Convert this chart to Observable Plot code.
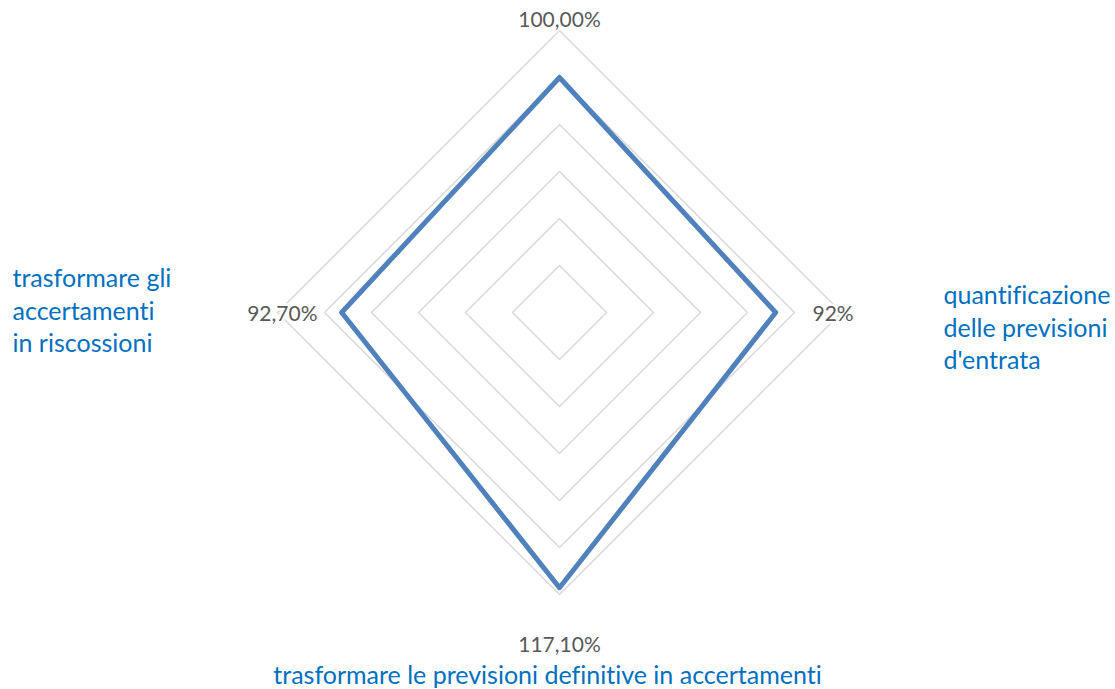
<!DOCTYPE html>
<html>
<head>
<meta charset="utf-8">
<script src="https://cdn.jsdelivr.net/npm/d3@7"></script>
<script src="https://cdn.jsdelivr.net/npm/@observablehq/plot@0.6"></script>
<style>
  html, body { margin: 0; padding: 0; background: #fff; }
  #chart { width: 1115px; height: 689px; }
  svg text { font-variant-ligatures: none; }
</style>
</head>
<body>
<div id="chart"></div>
<script>
// ---- data ----
const categories = [
  "",
  "quantificazione\ndelle previsioni\nd'entrata",
  "trasformare le previsioni definitive in accertamenti",
  "trasformare gli\naccertamenti\nin riscossioni"
];
const values = [100, 92, 117.1, 92.7];
const valueLabels = ["100,00%", "92%", "117,10%", "92,70%"];
const ringTicks = [20, 40, 60, 80, 100, 120];

// ---- geometry ----
const W = 1115, H = 689;
const cx = 559, cy = 312, R = 282, rMax = 120;
const k = R / rMax;
const angles = categories.map((_, i) => (i * 2 * Math.PI) / categories.length);
const px = (v, a) => v * Math.sin(a);
const py = (v, a) => v * Math.cos(a);

const gridData = ringTicks.flatMap(t =>
  [...angles, angles[0]].map(a => ({ t, x: px(t, a), y: py(t, a) }))
);
const seriesData = [...values, values[0]].map((v, i) => {
  const a = angles[i % angles.length];
  return { x: px(v, a), y: py(v, a) };
});
const axisEnds = angles.map((a, i) => ({
  x: px(rMax, a), y: py(rMax, a), cat: categories[i], lab: valueLabels[i], i
}));

// label offsets (pixels) per axis: top, right, bottom, left
const valueLabelStyle = [
  { anchor: "middle", dx: 0, dy: -10 },
  { anchor: "start", dx: -29, dy: 2 },
  { anchor: "middle", dx: 0, dy: 51 },
  { anchor: "end", dx: 40, dy: 2 }
];
const catLabelStyle = [
  { anchor: "middle", dx: 0, dy: 0 },
  { anchor: "start", dx: 102, dy: 14 },
  { anchor: "middle", dx: -12, dy: 79 },
  { anchor: "start", dx: -265, dy: -3 }
];

const FONT = "Lato, 'Noto Sans', sans-serif";

const marks = [
  Plot.line(gridData, { x: "x", y: "y", z: "t", stroke: "#d9d9d9", strokeWidth: 1.5 }),
  Plot.line(seriesData, { x: "x", y: "y", stroke: "#4f81bd", strokeWidth: 5, strokeLinejoin: "round" })
];
axisEnds.forEach((d, i) => {
  const vs = valueLabelStyle[i];
  marks.push(Plot.text([d], {
    x: "x", y: "y", text: "lab", textAnchor: vs.anchor, dx: vs.dx, dy: vs.dy,
    fill: "#595959", stroke: "white", strokeWidth: 5, fontSize: 21, fontFamily: FONT
  }));
  if (d.cat) {
    const cs = catLabelStyle[i];
    marks.push(Plot.text([d], {
      x: "x", y: "y", text: "cat", textAnchor: cs.anchor, dx: cs.dx, dy: cs.dy,
      lineAnchor: "middle", lineHeight: 1.3,
      fill: "#0070c0", fontSize: 25, fontFamily: FONT
    }));
  }
});

const chart = Plot.plot({
  width: W,
  height: H,
  margin: 0,
  x: { domain: [-cx / k, (W - cx) / k], axis: null },
  y: { domain: [-(H - cy) / k, cy / k], axis: null },
  style: { background: "white", fontFamily: FONT },
  marks
});
document.getElementById("chart").appendChild(chart);
</script>
</body>
</html>
